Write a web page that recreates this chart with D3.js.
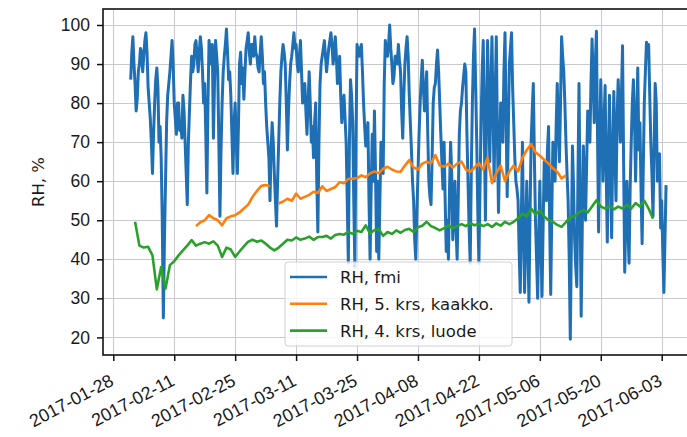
<!DOCTYPE html>
<html>
<head>
<meta charset="utf-8">
<script src="https://cdn.jsdelivr.net/npm/d3@7/dist/d3.min.js"></script>
<style>
  html, body { margin: 0; padding: 0; background: #fff; }
  svg { display: block; font-family: "DejaVu Sans", sans-serif; }
</style>
</head>
<body>
<svg id="chart" width="687" height="437"></svg>
<script>
// ---- data ----
const seriesNames = ["RH, fmi", "RH, 5. krs, kaakko.", "RH, 4. krs, luode"];
const seriesColors = ["#1f6fb4", "#ff7f0e", "#2ca02c"];

// RH, fmi: every 6 hours starting 2017-02-01 00:00 (one row of four per day)
const fmiStart = "2017-02-01";
const fmiStepHours = 6;
const fmiRH = [
  86, 93, 97, 90,   85, 78, 81, 88,   90, 94, 93, 88,   92, 96, 98, 93,   84, 80, 76, 70,
  62, 72, 80, 86,   89, 84, 70, 74,   66, 50, 25, 45,   60, 75, 82, 85,   88, 92, 96, 90,
  80, 76, 72, 80,   80, 73, 75, 71,   82, 78, 70, 62,   54, 70, 78, 86,   92, 88, 90, 95,
  96, 92, 88, 93,   97, 94, 88, 80,   85, 72, 57, 80,   96, 93, 90, 95,   71, 85, 96, 92,
  88, 70, 51, 68,   80, 88, 92, 95,   99, 93, 86, 88,   82, 72, 62, 75,   80, 70, 62, 74,
  90, 93, 85, 89,   81, 88, 94, 96,   98, 93, 90, 95,   95, 92, 97, 93,   92, 89, 88, 93,
  97, 92, 85, 88,   80, 74, 70, 66,   55, 68, 75, 70,   62, 55, 48.5, 60, 70, 80, 88, 92,
  95, 93, 90, 80,   68, 78, 85, 90,   92, 95, 98, 94,   95, 90, 88, 92,   96, 88, 80, 84,
  85, 78, 72, 80,   88, 80, 70, 74,   66, 75, 80, 60,   47, 70, 85, 90,   92, 94, 96, 92,
  88, 91, 94, 96,   98, 95, 90, 93,   97, 92, 85, 88,   92, 82, 75, 80,   82, 76, 70, 55,
  39, 70, 86, 82,   75, 55, 38, 70,   95, 93, 92, 94,   95, 88, 80, 74,   69, 72, 75, 55,
  40, 58, 72, 60,   78, 62, 42, 60,   40, 55, 70, 66,   62, 85, 96, 93,   92, 95, 100, 94,
  90, 85, 87, 92,   92, 90, 95, 91,   88, 78, 71, 82,   90, 94, 97, 92,   82, 75, 68, 60,
  55, 45, 40, 52,   62, 72, 80, 86,   91, 84, 78, 82,   88, 72, 60, 56,   54, 66, 80, 84,
  85, 90, 93.6, 88, 80, 72, 65, 58,   70, 55, 42, 50,   40, 58, 70, 62,   45, 52, 60, 48,
  40, 55, 72, 78,   80, 84, 87, 90,   88, 72, 60, 48,   39, 62, 80, 92,   99, 85, 70, 52,
  39, 58, 75, 88,   96, 72, 50, 78,   96, 80, 65, 84,   97, 78, 60, 82,   97, 72, 52, 66,
  80, 74, 70, 88,   98, 76, 56, 72,   90, 94, 98, 84,   75, 66, 60, 58,   55, 42, 31.5, 50,
  70, 48, 31.5, 46, 60, 44, 29, 52,   70, 78, 85, 66,   50, 40, 30, 46,   60, 44, 30.5, 48,
  65, 58, 55, 68,   74, 50, 31, 52,   70, 64, 60, 74,   85, 74, 65, 80,   97, 92, 88, 80,
  70, 62, 55, 40,   19.5, 45, 69, 58, 45, 38, 33, 60,   85, 55, 25.4, 48, 69, 60, 50, 64,
  78, 74, 70, 85,   96.4, 86, 75, 90, 98.4, 72, 47, 68, 86, 72, 60, 75,   84.5, 62, 44.4, 66,
  82, 62, 45.5, 68, 83, 68, 55, 76,   86, 78, 70, 82,   94.7, 65, 36.7, 50, 60, 48, 39, 58,
  70, 80, 86, 76,   60, 75, 89, 68,   75, 58, 44, 62,   80, 88, 95.6, 92, 95, 82, 70, 62,
  51, 68, 85, 80,   60, 64, 67, 48,   55, 42, 31.5, 45, 59
];

// RH, 5. krs, kaakko.: daily starting 2017-02-16 (null = gap)
const kaakkoStart = "2017-02-16";
const kaakkoRH = [
  48.5, 49.5, 50, 51.3, 50.5, 50, 48.7, 50.5, 51, 51.3,
  52, 53, 54, 56, 57.5, 58.8, 59, 58.7, null, 54.3,
  54.8, 55.5, 55, 56.8, 55.5, 56, 56.5, 57.3, 57, 58.7,
  57.5, 58, 58.5, 59.8, 59.5, 60.6, 60.6, 60.8, 61.5, 61,
  62, 62.5, 62, 63.2, 63.7, 63, 62.5, 62.4, 64, 65.4,
  63.5, 63, 64.5, 65, 64.6, 66.7, 64, 63.7, 64.5, 63.5,
  64.5, 65, 63, 62.4, 63.5, 64.6, 63, 66, 59.5, 62,
  64, 60, 62.5, 64, 62.5, 66, 68, 69.5, 67.4, 66.5,
  65.5, 64.5, 63.3, 62.4, 60.7, 61.5
];

// RH, 4. krs, luode: daily starting 2017-02-02
const luodeStart = "2017-02-02";
const luodeRH = [
  49.6, 43.5, 43, 43.2, 41, 32.3, 38, 32.5, 38.5, 39.5,
  41, 42.3, 43.5, 44.9, 43.5, 44, 44.4, 44, 44.6, 43.5,
  40.6, 43, 42.5, 40.6, 42, 43.3, 44.5, 45, 44.5, 44.8,
  44, 43, 42.3, 43, 44, 45, 44.8, 45.6, 45, 45.3,
  45.8, 45, 45.7, 45.7, 46, 45.3, 46.2, 46.5, 46.3, 47,
  46.5, 47.3, 47, 48.7, 46.6, 47.5, 47.7, 46, 47, 46.5,
  47.4, 46.8, 47.5, 47.8, 47, 48.2, 48.6, 49.6, 48.5, 48,
  47.4, 48, 48.7, 48, 48.5, 49, 48.5, 49.3, 48.7, 49.1,
  48.5, 49, 48.3, 49.2, 48.6, 49.6, 49, 49.6, 50.5, 51.7,
  51, 53, 51.5, 52.5, 51, 50, 49.6, 48.8, 48.3, 49.5,
  50.8, 51, 52, 52.6, 52, 53.5, 55.1, 53.5, 53, 53.7,
  52.8, 53.5, 53, 54, 53, 54.4, 53.5, 55, 53, 50.4
];

const xTickLabels = ["2017-01-28","2017-02-11","2017-02-25","2017-03-11","2017-03-25",
  "2017-04-08","2017-04-22","2017-05-06","2017-05-20","2017-06-03"];
const yTickValues = [20, 30, 40, 50, 60, 70, 80, 90, 100];
const yLabel = "RH, %";

// ---- layout ----
const plot = { left: 103, top: 9, right: 692, bottom: 355 };
const svg = d3.select("#chart");
const parse = s => new Date(s + "T00:00:00Z");

const x = d3.scaleUtc()
  .domain([parse("2017-01-28"), parse("2017-06-03")])
  .range([113.3, 661.7]);
const y = d3.scaleLinear().domain([20, 100]).range([337.4, 25]);

function toPoints(start, stepHours, values) {
  const t0 = parse(start).getTime();
  return values.map((v, i) => ({ t: new Date(t0 + i * stepHours * 3600e3), v }));
}
const series = [
  toPoints(fmiStart, fmiStepHours, fmiRH),
  toPoints(kaakkoStart, 24, kaakkoRH),
  toPoints(luodeStart, 24, luodeRH)
];

// clip
svg.append("defs").append("clipPath").attr("id", "clip")
  .append("rect").attr("x", plot.left).attr("y", plot.top)
  .attr("width", plot.right - plot.left).attr("height", plot.bottom - plot.top);

// grid
const grid = svg.append("g").attr("stroke", "#c9c9d2").attr("stroke-width", 1);
xTickLabels.forEach(s => {
  const px = Math.round(x(parse(s))) + 0.5;
  grid.append("line").attr("x1", px).attr("x2", px).attr("y1", plot.top).attr("y2", plot.bottom);
});
yTickValues.forEach(v => {
  const py = Math.round(y(v)) + 0.5;
  grid.append("line").attr("x1", plot.left).attr("x2", plot.right).attr("y1", py).attr("y2", py);
});

// lines
const line = d3.line().defined(d => d.v !== null).x(d => x(d.t)).y(d => y(d.v));
const lines = svg.append("g").attr("clip-path", "url(#clip)");
series.forEach((s, i) => {
  lines.append("path").datum(s).attr("d", line)
    .attr("fill", "none").attr("stroke", seriesColors[i])
    .attr("stroke-width", i === 0 ? 3 : 2.6).attr("stroke-linejoin", "round");
});

// axes
const xAxis = d3.axisBottom(x).tickValues(xTickLabels.map(parse)).tickSize(6).tickFormat(d3.utcFormat("%Y-%m-%d"));
const gx = svg.append("g").attr("transform", `translate(0,${plot.bottom})`).call(xAxis);
gx.select(".domain").remove();
gx.selectAll(".tick line").attr("stroke", "#111").attr("stroke-width", 1.5);
gx.selectAll(".tick text")
  .attr("font-size", 18).attr("fill", "#1a1a1a")
  .attr("text-anchor", "end")
  .attr("x", 0).attr("y", 0).attr("dy", "0.72em")
  .attr("transform", "translate(-5,18) rotate(-28)");

const yAxis = d3.axisLeft(y).tickValues(yTickValues).tickSize(6).tickPadding(7);
const gy = svg.append("g").attr("transform", `translate(${plot.left},0)`).call(yAxis);
gy.select(".domain").remove();
gy.selectAll(".tick line").attr("stroke", "#111").attr("stroke-width", 1.5);
gy.selectAll(".tick text").attr("font-size", 17.5).attr("fill", "#1a1a1a");

// spines
svg.append("rect").attr("x", plot.left).attr("y", plot.top)
  .attr("width", plot.right - plot.left).attr("height", plot.bottom - plot.top)
  .attr("fill", "none").attr("stroke", "#111").attr("stroke-width", 1.6);

// y label
svg.append("text").attr("transform", `translate(44,${(plot.top + plot.bottom) / 2}) rotate(-90)`)
  .attr("text-anchor", "middle").attr("font-size", 16.5).attr("fill", "#1a1a1a").text(yLabel);

// legend
const lg = svg.append("g");
lg.append("rect").attr("x", 285).attr("y", 262).attr("width", 227).attr("height", 84)
  .attr("rx", 3).attr("fill", "rgba(255,255,255,0.82)").attr("stroke", "#d0d0d0");
seriesNames.forEach((name, i) => {
  const cy = 277 + i * 26.8;
  lg.append("line").attr("x1", 290).attr("x2", 327).attr("y1", cy).attr("y2", cy)
    .attr("stroke", seriesColors[i]).attr("stroke-width", 2.6);
  lg.append("text").attr("x", 340).attr("y", cy).attr("dy", "0.36em")
    .attr("font-size", 16.5).attr("fill", "#1a1a1a").text(name);
});
</script>
</body>
</html>
